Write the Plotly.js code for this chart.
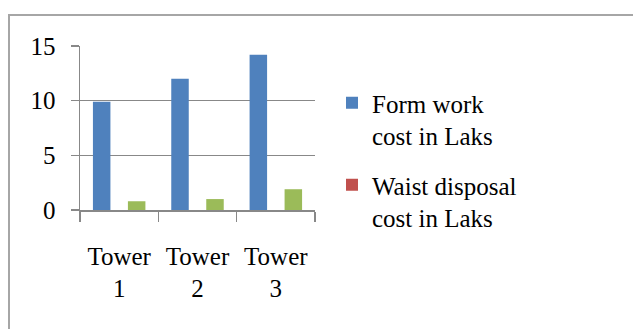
<!DOCTYPE html>
<html>
<head>
<meta charset="utf-8">
<script src="https://cdn.plot.ly/plotly-3.0.1.min.js"></script>
<style>
  html, body { margin: 0; padding: 0; background: #ffffff; }
  #chart { width: 633px; height: 329px; }
</style>
</head>
<body>
<div id="chart"></div>
<script>
// Data
var categories = ["Tower<br>1", "Tower<br>2", "Tower<br>3"];
var formWorkCost = [9.9, 12, 14.2];
var waistDisposalCost = [0, 0, 0];
var thirdSeries = [0.8, 1.0, 1.9];
var seriesNames = ["Form work<br>cost in Laks", "Waist disposal<br>cost in Laks", "Series 3"];
var yTicks = [0, 5, 10, 15];

var W = 633, H = 329;
var mL = 80, mR = 318, mT = 46, mB = 119;
var pw = W - mL - mR, ph = H - mT - mB;
function px2x(p) { return (p - mL) / pw; }
function py2y(p) { return (H - mB - p) / ph; }

var font = "Liberation Serif, Times New Roman, serif";

var traces = [
  { type: "bar", x: categories, y: formWorkCost, name: seriesNames[0], legendgroup: "g1",
    marker: { color: "#4F81BD", line: { width: 0 } }, hoverinfo: "none" },
  { type: "bar", x: categories, y: waistDisposalCost, name: seriesNames[1], legendgroup: "g2",
    marker: { color: "#C0504D", line: { width: 0 } }, hoverinfo: "none" },
  { type: "bar", x: categories, y: thirdSeries, name: seriesNames[2], legendgroup: "g3",
    marker: { color: "#9BBB59", line: { width: 0 } }, showlegend: false, hoverinfo: "none" }
];

var layout = {
  width: W, height: H,
  margin: { l: mL, r: mR, t: mT, b: mB, pad: 0 },
  paper_bgcolor: "#ffffff",
  plot_bgcolor: "#ffffff",
  barmode: "group",
  bargap: 0.33,
  bargroupgap: 0,
  font: { family: font, size: 25, color: "#000000" },
  showlegend: true,
  legend: {
    x: px2x(332), y: py2y(80), xanchor: "left", yanchor: "top",
    font: { family: font, size: 25, color: "#000000" },
    bgcolor: "rgba(0,0,0,0)", borderwidth: 0,
    tracegroupgap: 14, valign: "top", traceorder: "grouped"
  },
  xaxis: {
    type: "category",
    showgrid: false,
    showline: true, linecolor: "#888888", linewidth: 1.5,
    ticks: "outside", tickson: "boundaries", ticklen: 10, tickcolor: "#888888", tickwidth: 1.5,
    tickfont: { family: font, size: 25, color: "#000000" },
    ticklabelstandoff: 23,
    zeroline: false, fixedrange: true
  },
  yaxis: {
    range: [0, 15],
    tickvals: yTicks,
    ticktext: yTicks.map(String),
    showgrid: true, gridcolor: "#888888", gridwidth: 1.5,
    showline: true, linecolor: "#888888", linewidth: 1.5,
    ticks: "outside", ticklen: 8, tickcolor: "#888888", tickwidth: 1.5,
    tickfont: { family: font, size: 25, color: "#000000" },
    ticklabelstandoff: 10,
    zeroline: false, fixedrange: true
  },
  shapes: [
    { type: "rect", xref: "paper", yref: "paper",
      x0: px2x(9), x1: px2x(645), y0: py2y(15), y1: py2y(345),
      line: { color: "#A6A6A6", width: 2 }, fillcolor: "rgba(0,0,0,0)", layer: "below" }
  ]
};

Plotly.newPlot("chart", traces, layout, { staticPlot: true, displayModeBar: false });
</script>
</body>
</html>
